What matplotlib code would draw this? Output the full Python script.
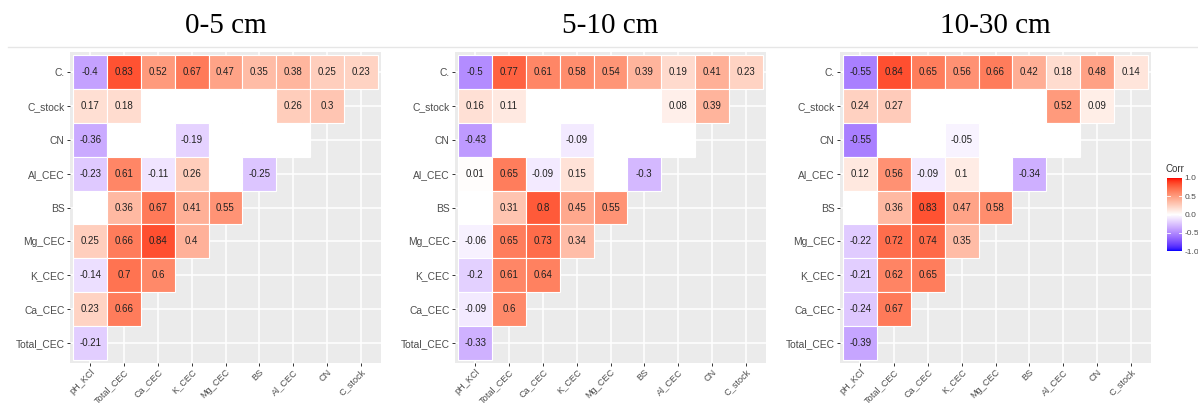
import numpy as np
import matplotlib
matplotlib.use('Agg')
import matplotlib.pyplot as plt
from matplotlib.colors import ListedColormap
from matplotlib.patches import Rectangle
from matplotlib.lines import Line2D

rows = ['C.', 'C_stock', 'CN', 'Al_CEC', 'BS', 'Mg_CEC', 'K_CEC', 'Ca_CEC', 'Total_CEC']
cols = ['pH_KCl', 'Total_CEC', 'Ca_CEC', 'K_CEC', 'Mg_CEC', 'BS', 'Al_CEC', 'CN', 'C_stock']
titles = ['0-5 cm', '5-10 cm', '10-30 cm']
nan = np.nan

# lower triangle, row by row (top to bottom); nan = not significant (blank white cell)
corr_0_5 = [
    [-0.4, 0.83, 0.52, 0.67, 0.47, 0.35, 0.38, 0.25, 0.23],
    [0.17, 0.18, nan, nan, nan, nan, 0.26, 0.3],
    [-0.36, nan, nan, -0.19, nan, nan, nan],
    [-0.23, 0.61, -0.11, 0.26, nan, -0.25],
    [nan, 0.36, 0.67, 0.41, 0.55],
    [0.25, 0.66, 0.84, 0.4],
    [-0.14, 0.7, 0.6],
    [0.23, 0.66],
    [-0.21],
]
corr_5_10 = [
    [-0.5, 0.77, 0.61, 0.58, 0.54, 0.39, 0.19, 0.41, 0.23],
    [0.16, 0.11, nan, nan, nan, nan, 0.08, 0.39],
    [-0.43, nan, nan, -0.09, nan, nan, nan],
    [0.01, 0.65, -0.09, 0.15, nan, -0.3],
    [nan, 0.31, 0.8, 0.45, 0.55],
    [-0.06, 0.65, 0.73, 0.34],
    [-0.2, 0.61, 0.64],
    [-0.09, 0.6],
    [-0.33],
]
corr_10_30 = [
    [-0.55, 0.84, 0.65, 0.56, 0.66, 0.42, 0.18, 0.48, 0.14],
    [0.24, 0.27, nan, nan, nan, nan, 0.52, 0.09],
    [-0.55, nan, nan, -0.05, nan, nan, nan],
    [0.12, 0.56, -0.09, 0.1, nan, -0.34],
    [nan, 0.36, 0.83, 0.47, 0.58],
    [-0.22, 0.72, 0.74, 0.35],
    [-0.21, 0.62, 0.65],
    [-0.24, 0.67],
    [-0.39],
]
panels = [corr_0_5, corr_5_10, corr_10_30]

# blue - white - red gradient interpolated in CIELAB (like ggplot's gradient2)
M = np.array([[0.4124, 0.3576, 0.1805], [0.2126, 0.7152, 0.0722], [0.0193, 0.1192, 0.9505]])
WP = np.array([0.95047, 1.0, 1.08883])


def to_lab(rgb):
    c = np.asarray(rgb, float)
    lin = np.where(c <= 0.04045, c / 12.92, ((c + 0.055) / 1.055) ** 2.4)
    xyz = M @ lin / WP
    f = np.where(xyz > 0.008856, np.cbrt(xyz), 7.787 * xyz + 16 / 116)
    return np.array([116 * f[1] - 16, 500 * (f[0] - f[1]), 200 * (f[1] - f[2])])


def from_lab(lab):
    fy = (lab[0] + 16) / 116
    f = np.array([fy + lab[1] / 500, fy, fy - lab[2] / 200])
    xyz = np.where(f ** 3 > 0.008856, f ** 3, (f - 16 / 116) / 7.787) * WP
    lin = np.clip(np.linalg.inv(M) @ xyz, 0, 1)
    c = np.where(lin <= 0.0031308, 12.92 * lin, 1.055 * lin ** (1 / 2.4) - 0.055)
    return np.clip(c, 0, 1)


blue, white, red = to_lab([0, 0, 1]), to_lab([1, 1, 1]), to_lab([1, 0, 0])
cols_lut = []
for t in np.linspace(-1, 1, 256):
    if t < 0:
        lab = blue + (white - blue) * (t + 1)
    else:
        lab = white + (red - white) * t
    cols_lut.append(from_lab(lab))
cmap = ListedColormap(cols_lut)

W, H = 1198, 407
fig = plt.figure(figsize=(W / 100, H / 100), dpi=100)
fig.patch.set_facecolor('white')

panel_x = [70, 455, 840]
panel_top, panel_size = 52, 311
lim = (-0.6, 8.6)

for k, data in enumerate(panels):
    ax = fig.add_axes([panel_x[k] / W, (H - panel_top - panel_size) / H, panel_size / W, panel_size / H])
    ax.set_facecolor('#EBEBEB')
    ax.set_xlim(*lim)
    ax.set_ylim(lim[1], lim[0])
    ax.set_axisbelow(True)
    ax.grid(True, color='white', lw=1.1)
    for s in ax.spines.values():
        s.set_visible(False)
    for i, row in enumerate(data):
        for j, v in enumerate(row):
            fc = 'white' if np.isnan(v) else cmap((v + 1) / 2)
            ax.add_patch(Rectangle((j - 0.5, i - 0.5), 1, 1, facecolor=fc, edgecolor='white', lw=0.8))
            if not np.isnan(v):
                ax.text(j, i, f'{v:g}', ha='center', va='center', fontsize=7,
                        color='#222222', family='Liberation Sans')
    ax.set_xticks(range(len(cols)))
    ax.set_xticklabels(cols, rotation=45, ha='right', va='top', rotation_mode='anchor')
    ax.set_yticks(range(len(rows)))
    ax.set_yticklabels(rows)
    ax.tick_params(length=2.2, width=0.7, color='#333333', labelcolor='#4D4D4D', pad=1.5)
    ax.tick_params(axis='y', labelsize=7.4)
    ax.tick_params(axis='x', labelsize=6.6, pad=1)
    for lab in ax.get_xticklabels() + ax.get_yticklabels():
        lab.set_family('Liberation Sans')
    fig.text((panel_x[k] + panel_size / 2) / W, 1 - 26 / H, titles[k], ha='center', va='center',
             fontsize=21, family='Liberation Serif', color='black')

# thin separator under titles
fig.add_artist(Line2D([0.007, 1.0], [1 - 47 / H] * 2, color='#E6E6E6', lw=1))

# colour legend
cax = fig.add_axes([1167 / W, (H - 251) / H, 15 / W, 73 / H])
grad = np.linspace(-1, 1, 200)[:, None]
cax.imshow(grad, aspect='auto', cmap=cmap, extent=[0, 1, -1, 1], origin='lower', vmin=-1, vmax=1)
for s in cax.spines.values():
    s.set_visible(False)
cax.set_xticks([])
cax.yaxis.tick_right()
cax.set_yticks([-1, -0.5, 0, 0.5, 1])
cax.set_yticklabels(['-1.0', '-0.5', '0.0', '0.5', '1.0'])
cax.tick_params(length=0, pad=2, labelsize=6, labelcolor='#4D4D4D')
for lab in cax.get_yticklabels():
    lab.set_family('Liberation Sans')
for tv in [-0.5, 0, 0.5]:
    cax.plot([0, 0.2], [tv, tv], color='white', lw=0.6)
    cax.plot([0.8, 1], [tv, tv], color='white', lw=0.6)
cax.set_xlim(0, 1)
cax.set_ylim(-1, 1)
fig.text(1165 / W, 1 - 169 / H, 'Corr', ha='left', va='center', fontsize=7,
         color='#333333', family='Liberation Sans')

fig.savefig('out.png', dpi=100, facecolor='white')
